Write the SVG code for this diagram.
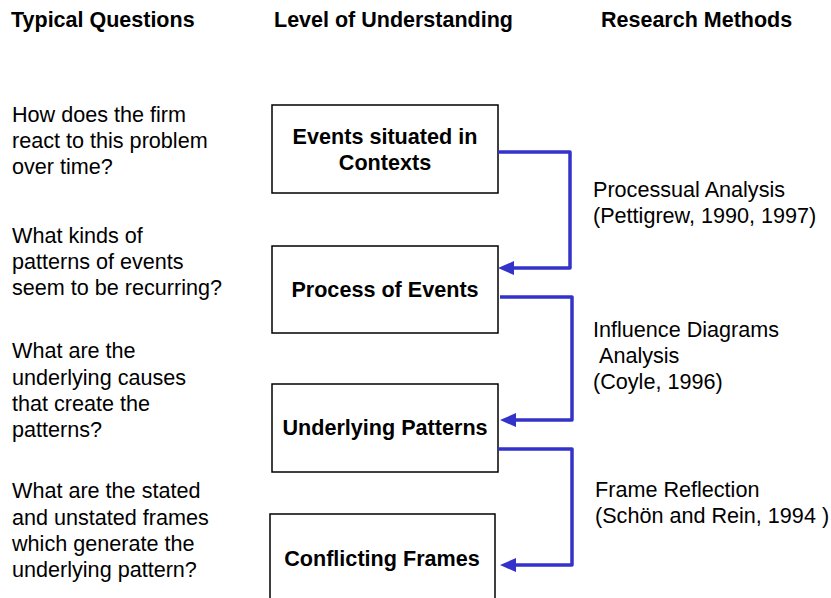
<svg xmlns="http://www.w3.org/2000/svg" width="831" height="598" viewBox="0 0 831 598">
<defs>
<style>
text{font-family:"Liberation Sans",Arial,sans-serif;fill:#000}
.h{font-size:21.5px;font-weight:bold}
.t{font-size:21.6px}
.b{font-size:21.6px;font-weight:bold;text-anchor:middle}
.box{fill:#fff;stroke:#000;stroke-width:1.5}
.c{fill:none;stroke:#3333cc;stroke-width:3.5;stroke-linejoin:round}
</style>
<marker id="ah" markerUnits="userSpaceOnUse" markerWidth="18" markerHeight="16" refX="2" refY="7" orient="auto">
<path d="M0,0 L16,7 L0,14 z" fill="#3333cc"/>
</marker>
</defs>
<rect width="831" height="598" fill="#fff"/>
<g id="headers">
<text class="h" x="11" y="27">Typical Questions</text>
<text class="h" x="274" y="27">Level of Understanding</text>
<text class="h" x="601" y="27">Research Methods</text>
</g>
<g id="questions">
<text class="t" x="12" y="122">How does the firm</text>
<text class="t" x="12" y="148">react to this problem</text>
<text class="t" x="12" y="174">over time?</text>
<text class="t" x="12" y="243">What kinds of</text>
<text class="t" x="12" y="269">patterns of events</text>
<text class="t" x="12" y="295">seem to be recurring?</text>
<text class="t" x="12" y="358">What are the</text>
<text class="t" x="12" y="385">underlying causes</text>
<text class="t" x="12" y="411">that create the</text>
<text class="t" x="12" y="437">patterns?</text>
<text class="t" x="12" y="498">What are the stated</text>
<text class="t" x="12" y="525">and unstated frames</text>
<text class="t" x="12" y="551">which generate the</text>
<text class="t" x="12" y="577">underlying pattern?</text>
</g>
<g id="methods">
<text class="t" x="593" y="197">Processual Analysis</text>
<text class="t" x="593" y="223">(Pettigrew, 1990, 1997)</text>
<text class="t" x="593" y="337">Influence Diagrams</text>
<text class="t" x="599" y="363">Analysis</text>
<text class="t" x="593" y="389">(Coyle, 1996)</text>
<text class="t" x="595" y="497">Frame Reflection</text>
<text class="t" x="595" y="523">(Schön and Rein, 1994 )</text>
</g>
<g id="node-events">
<rect class="box" x="272" y="105" width="226" height="88"/>
<text class="b" x="385" y="144">Events situated in</text>
<text class="b" x="385" y="170">Contexts</text>
</g>
<g id="node-process">
<rect class="box" x="272" y="246" width="226" height="87"/>
<text class="b" x="385" y="297">Process of Events</text>
</g>
<g id="node-patterns">
<rect class="box" x="272" y="384" width="226" height="88"/>
<text class="b" x="385" y="435">Underlying Patterns</text>
</g>
<g id="node-frames">
<rect class="box" x="270" y="514" width="225" height="100"/>
<text class="b" x="382" y="566">Conflicting Frames</text>
</g>
<g id="connectors">
<path class="c" d="M498,152 H570 V268 H512" marker-end="url(#ah)"/>
<path class="c" d="M500,297 H572 V420 H514" marker-end="url(#ah)"/>
<path class="c" d="M498,449 H572 V565 H514" marker-end="url(#ah)"/>
</g>
</svg>
